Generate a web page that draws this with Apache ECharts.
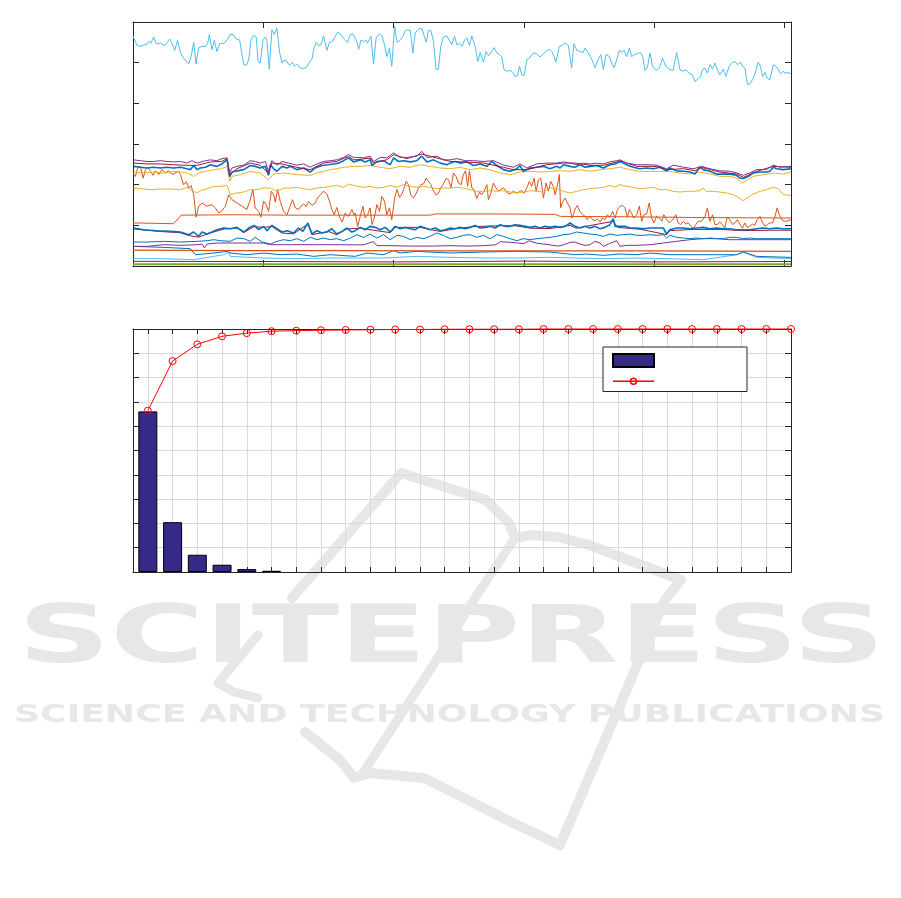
<!DOCTYPE html>
<html><head><meta charset="utf-8">
<script src="https://cdn.jsdelivr.net/npm/echarts@6.0.0/dist/echarts.min.js"></script>
<style>html,body{margin:0;padding:0;background:#fff}#c{width:901px;height:898px}</style>
</head><body><div id="c"></div><script>
// ---------- top chart: time series (x = sample index, y = value) ----------
const lbTop = [[0,5.65],[1.6,5.42],[2.8,5.40],[4.1,5.43],[5.4,5.46],[6.0,5.52],[6.9,5.48],[7.9,5.63],[9.0,5.46],[10.5,5.48],[11.1,5.48],[12.2,5.42],[13.1,5.50],[14.1,5.58],[15.0,5.48],[16.0,5.30],[17.1,5.55],[18.2,5.25],[19.4,5.11],[21.4,4.97],[22.3,5.15],[23.3,5.50],[24.2,4.97],[25.2,5.37],[26.5,5.40],[27.8,5.40],[28.7,5.48],[29.3,5.69],[30.3,5.32],[31.2,5.55],[32.2,5.27],[33.3,5.47],[34.8,5.47],[36.1,5.56],[37.3,5.69],[38.4,5.70],[39.6,5.58],[40.9,5.56],[41.6,5.55],[42.5,4.95],[43.5,4.94],[44.4,5.07],[45.3,5.56],[46.3,5.67],[47.3,5.63],[48.0,5.02],[48.8,4.99],[49.9,5.56],[50.8,5.63],[51.4,5.54],[52.3,4.84],[53.3,5.81],[54.2,5.69],[55.2,5.85],[56.3,5.24],[57.2,4.99],[58.0,5.07],[59.1,5.02],[60.1,4.93],[61.2,5.01],[61.9,4.91],[62.9,4.97],[64.2,4.87],[65.5,4.86],[66.5,4.88],[67.8,5.02],[68.7,5.09],[69.3,5.32],[70.3,5.50],[71.2,5.42],[72.1,5.44],[73.1,5.66],[74.4,5.30],[75.4,5.50],[76.5,5.52],[77.2,5.52],[78.5,5.75],[79.5,5.71],[80.8,5.60],[82.3,5.50],[83.4,5.69],[84.4,5.70],
[85.7,5.55],[86.6,5.33],[87.5,5.56],[88.5,5.52],[89.5,5.55],[90.0,5.48],[91.3,5.65],[92.3,4.97],[93.3,5.61],[94.6,5.71],[95.5,5.66],[96.5,5.44],[97.4,5.15],[98.4,5.36],[99.3,4.91],[100.4,5.89],[101.3,5.50],[102.5,5.55],[103.6,5.65],[104.5,5.79],[105.4,5.81],[106.4,5.79],[107.4,5.24],[108.3,5.73],[109.6,5.83],[110.8,5.85],[111.5,5.81],[112.5,5.50],[113.4,5.79],[114.3,5.79],[115.3,5.52],[116.3,4.83],[117.2,4.84],[118.1,5.40],[119.1,5.63],[120.4,5.66],[121.4,5.55],[122.3,5.44],[123.4,5.65],[124.3,5.44],[125.3,5.47],[126.3,5.40],[127.2,5.56],[128.1,5.61],[129.1,5.42],[130.0,5.66],[131.3,5.40],[132.3,5.03],[133.2,5.25],[134.5,5.01],[135.5,5.28],[136.4,5.17],[137.7,5.28],[138.6,5.37],[139.6,5.24],[140.6,5.20],[141.5,5.14],[142.4,4.83],[143.4,4.79],[144.7,4.81],[145.7,4.76],[146.6,4.66],[147.5,4.68],[148.3,4.91],[149.2,4.70],[150.1,4.68],[151.1,5.07],[152.1,5.11],[153.0,5.20],[153.9,5.24],[154.9,5.22],[156.2,5.14],[157.5,5.22],[158.8,5.30],[159.8,5.33],[160.7,5.28],[161.6,5.15],[162.3,5.01],[163.6,5.40],[164.9,5.44],[165.8,5.48],[167.1,5.42],[167.7,5.40],
[168.3,4.87],[169.2,5.47],[170.3,5.30],[171.5,5.28],[172.6,5.24],[173.5,5.36],[174.7,5.24],[176.0,5.09],[177.3,4.88],[178.6,5.09],[179.5,5.20],[180.5,4.83],[181.5,5.20],[182.8,5.15],[183.7,4.99],[184.6,4.87],[185.6,5.07],[186.6,5.30],[187.5,5.26],[188.5,5.30],[189.4,5.15],[190.5,5.36],[191.3,5.15],[192.6,5.20],[193.9,5.24],[194.9,5.24],[195.6,5.15],[196.5,4.81],[197.4,4.89],[198.4,5.24],[199.4,4.91],[200.7,4.81],[202.0,4.87],[203.2,5.11],[204.5,4.91],[206.0,4.83],[207.3,4.81],[208.6,5.25],[209.9,4.83],[211.2,4.79],[212.2,4.83],[213.5,4.74],[214.7,4.70],[215.6,4.54],[216.9,4.60],[217.8,4.66],[218.6,4.84],[219.5,4.87],[220.4,4.74],[221.4,4.95],[222.4,4.84],[223.3,4.99],[224.2,4.83],[225.2,4.70],[226.5,4.84],[227.5,4.66],[228.8,4.91],[229.7,4.99],[231.0,5.03],[232.0,4.95],[233.1,5.01],[233.9,4.91],[234.8,4.87],[235.8,4.46],[236.7,4.48],[237.7,4.58],[238.6,4.70],[239.9,5.01],[240.8,4.91],[241.6,4.66],[242.5,4.76],[243.4,4.62],[244.4,4.58],[245.7,4.95],[246.7,4.91],[247.6,4.83],[248.5,4.73],[249.5,4.79],[250.1,4.74],[251.0,4.76],[252.5,4.73]];

const clBlue = [[0.3,2.45],[2.8,2.43],[5.4,2.41],[7.9,2.43],[10.5,2.41],[13.1,2.43],[15.6,2.41],[18.2,2.43],[20.7,2.39],[22.0,2.37],[23.3,2.47],[24.6,2.37],[25.8,2.41],[27.8,2.43],[29.7,2.49],[32.2,2.45],[34.1,2.51],[36.1,2.61],[37.1,2.20],[38.0,2.31],[39.9,2.34],[42.5,2.37],[45.0,2.47],[46.9,2.45],[48.8,2.41],[50.8,2.45],[52.0,2.23],[52.7,2.49],[54.0,2.39],[55.2,2.33],[57.2,2.45],[59.1,2.41],[60.3,2.45],[62.9,2.37],[65.5,2.41],[68.0,2.31],[69.9,2.41],[72.5,2.47],[75.0,2.49],[77.0,2.51],[78.9,2.53],[80.8,2.59],[82.7,2.66],[84.6,2.56],
[85.3,2.57],[87.2,2.61],[89.1,2.56],[91.0,2.61],[91.7,2.47],[93.6,2.57],[96.1,2.59],[98.7,2.49],[100.0,2.66],[101.9,2.57],[103.8,2.59],[106.4,2.56],[108.9,2.59],[110.8,2.70],[112.8,2.56],[115.3,2.61],[117.9,2.53],[120.4,2.49],[121.7,2.53],[123.6,2.57],[125.5,2.53],[128.1,2.56],[130.7,2.47],[133.2,2.51],[135.8,2.45],[137.7,2.57],[139.6,2.47],[142.2,2.37],[144.7,2.33],[147.3,2.39],[148.5,2.47],[149.8,2.33],[152.4,2.41],[155.0,2.43],[157.5,2.45],[160.0,2.39],[162.6,2.45],[163.9,2.41],[165.2,2.49],[167.7,2.45],
[169.6,2.43],[171.5,2.49],[173.5,2.43],[175.4,2.45],[177.9,2.47],[180.5,2.41],[183.0,2.49],[185.0,2.51],[186.9,2.57],[188.1,2.53],[190.1,2.47],[192.0,2.43],[194.5,2.39],[197.1,2.41],[199.7,2.39],[202.2,2.43],[204.8,2.34],[206.0,2.41],[208.6,2.34],[211.2,2.33],[213.7,2.31],[215.6,2.26],[217.5,2.43],[218.8,2.37],[221.4,2.33],[223.9,2.26],[226.5,2.26],[229.0,2.26],[231.6,2.23],[232.9,2.16],[234.2,2.15],[236.1,2.20],[238.0,2.29],[240.6,2.31],[243.1,2.31],[244.4,2.33],[245.7,2.43],[247.0,2.39],[249.5,2.37],[252.5,2.39]];

const clPurple = [[0.3,2.61],[2.8,2.59],[5.4,2.57],[7.9,2.57],[10.5,2.59],[13.1,2.57],[15.6,2.56],[18.2,2.57],[20.7,2.53],[22.6,2.59],[24.6,2.53],[27.8,2.59],[29.7,2.61],[32.2,2.59],[34.1,2.64],[36.1,2.66],[37.1,2.29],[38.0,2.41],[39.9,2.45],[42.5,2.48],[45.0,2.59],[46.9,2.57],[48.8,2.53],[50.8,2.57],[52.0,2.33],[53.3,2.59],[55.2,2.48],[57.2,2.57],[59.7,2.53],[62.9,2.48],[65.5,2.51],[68.0,2.43],[70.6,2.51],[73.1,2.57],[75.7,2.59],[78.2,2.61],[80.8,2.67],[82.7,2.74],[84.6,2.67],
[85.9,2.67],[88.5,2.66],[91.0,2.70],[92.3,2.57],[94.9,2.67],[97.4,2.66],[100.0,2.78],[102.5,2.67],[105.1,2.67],[108.9,2.70],[110.8,2.82],[112.8,2.67],[116.6,2.70],[119.1,2.61],[121.7,2.61],[124.3,2.64],[127.5,2.59],[130.7,2.59],[134.5,2.57],[138.3,2.59],[142.2,2.48],[146.0,2.43],[148.5,2.51],[151.1,2.41],[154.9,2.51],[158.8,2.53],[162.6,2.53],[165.2,2.56],[167.7,2.53],
[170.3,2.49],[172.8,2.53],[175.4,2.51],[177.9,2.53],[180.5,2.51],[183.0,2.56],[185.6,2.59],[186.9,2.61],[189.4,2.53],[193.3,2.49],[197.1,2.49],[200.9,2.48],[204.8,2.39],[207.3,2.48],[211.2,2.43],[215.0,2.39],[218.2,2.45],[221.4,2.39],[225.2,2.34],[229.0,2.33],[231.6,2.29],[234.2,2.23],[236.7,2.29],[239.3,2.37],[243.1,2.37],[245.7,2.48],[248.2,2.43],[252.5,2.45]];

const clRed = [[0.3,2.53],[5.4,2.51],[10.5,2.51],[15.6,2.49],[20.7,2.475],[24.6,2.475],[29.7,2.557],[34.1,2.573],[36.1,2.639],[37.1,2.245],[39.9,2.393],[45.0,2.532],[48.8,2.475],[52.0,2.286],[53.3,2.532],[57.2,2.508],[62.9,2.426],[68.0,2.368],[73.1,2.532],[78.2,2.573],[82.7,2.696],[84.6,2.614],
[85.9,2.614],[91.0,2.655],[92.3,2.532],[97.4,2.614],[100.0,2.737],[105.1,2.639],[110.8,2.753],[116.6,2.655],[121.7,2.573],[127.5,2.557],[134.5,2.532],[142.2,2.426],[146.0,2.368],[151.1,2.368],[158.8,2.491],[165.2,2.532],[169.6,2.532],
[175.4,2.475],[180.5,2.475],[185.6,2.557],[186.9,2.59],[193.3,2.45],[200.9,2.45],[204.8,2.368],[211.2,2.393],[215.6,2.344],[218.2,2.426],[225.2,2.311],[231.6,2.262],[234.2,2.18],[239.3,2.327],[245.7,2.45],[252.5,2.426]];

const clYellow = [[0.3,2.311],[4.1,2.286],[7.9,2.311],[11.8,2.286],[15.6,2.327],[18.2,2.311],[20.7,2.286],[23.3,2.204],[25.2,2.286],[27.8,2.327],[31.0,2.368],[34.1,2.393],[36.1,2.45],[37.1,2.081],[38.0,2.204],[41.2,2.245],[45.0,2.327],[48.8,2.286],[52.0,2.122],[54.0,2.262],[57.8,2.286],[62.9,2.245],[68.0,2.229],[70.6,2.286],[75.7,2.368],[80.8,2.426],[84.6,2.45],
[87.2,2.45],[91.0,2.475],[94.9,2.426],[98.7,2.393],[102.5,2.45],[106.4,2.426],[110.2,2.491],[114.0,2.45],[117.9,2.409],[121.7,2.393],[125.5,2.426],[129.4,2.368],[133.2,2.409],[137.0,2.368],[140.9,2.286],[144.7,2.245],[148.5,2.311],[152.4,2.327],[156.2,2.311],[160.0,2.327],[163.9,2.344],[167.7,2.327],
[171.5,2.368],[175.4,2.327],[179.2,2.368],[183.0,2.393],[186.9,2.426],[190.7,2.368],[194.5,2.327],[198.4,2.327],[202.2,2.327],[206.0,2.327],[209.9,2.286],[213.7,2.262],[217.5,2.311],[221.4,2.262],[225.2,2.204],[229.0,2.204],[231.6,2.163],[233.5,2.04],[235.4,2.098],[238.0,2.204],[241.8,2.245],[245.7,2.286],[249.5,2.262],[252.5,2.311]];

const yellow2 = [[0.3,1.917],[2.8,1.901],[6.7,1.877],[10.5,1.893],[14.3,1.893],[18.2,1.877],[20.7,1.934],[23.3,1.836],[24.6,1.795],[25.8,1.852],[28.4,1.901],[31.0,1.958],[33.5,1.958],[36.1,1.983],[37.3,1.754],[39.9,1.795],[42.5,1.819],[45.0,1.877],[47.6,1.877],[50.1,1.917],[52.7,1.917],[55.2,1.836],[57.8,1.917],[60.3,1.917],[62.9,1.934],[65.5,1.901],[68.0,1.877],[70.6,1.917],[73.1,1.934],[75.7,1.958],[78.2,1.983],[80.8,1.934],[82.7,2.016],[84.6,1.983],
[85.9,1.958],[88.5,1.934],[91.0,1.958],[93.6,1.917],[96.1,1.934],[98.7,1.983],[101.3,1.934],[103.8,2.0],[106.4,1.958],[108.9,1.934],[111.5,1.958],[114.0,1.934],[116.6,1.901],[119.1,1.917],[121.7,1.917],[124.3,1.934],[126.8,1.917],[129.4,1.877],[131.9,1.836],[134.5,1.836],[137.0,1.852],[139.6,1.836],[142.2,1.852],[144.7,1.819],[147.3,1.795],[149.8,1.819],[152.4,1.852],[155.0,1.836],[157.5,1.819],[160.0,1.917],[162.6,1.901],[165.2,1.836],[167.7,1.795],
[170.3,1.836],[172.8,1.877],[175.4,1.901],[177.9,1.917],[180.5,1.934],[183.0,1.983],[185.0,1.934],[186.9,2.0],[189.4,1.958],[192.0,1.934],[194.5,1.901],[197.1,1.917],[199.7,1.934],[202.2,1.877],[204.8,1.877],[207.3,1.836],[209.9,1.819],[212.4,1.836],[215.0,1.836],[217.5,1.852],[218.8,1.917],[220.1,1.836],[222.7,1.836],[225.2,1.819],[227.8,1.795],[230.3,1.754],[232.2,1.688],[234.2,1.606],[236.1,1.688],[238.0,1.770],[240.6,1.836],[243.1,1.877],[245.7,1.934],[247.6,1.901],[249.5,1.754],[252.5,1.737]];

const orNoisy = [[0,2.29],[0.9,2.20],[1.8,2.41],[2.8,2.45],[3.9,2.16],[4.8,2.37],[5.6,2.43],[6.7,2.33],[7.7,2.23],[8.6,2.34],[9.9,2.25],[11.1,2.37],[12.4,2.29],[13.7,2.34],[15.0,2.25],[16.3,2.29],[17.5,2.33],[18.2,2.25],[19.4,2.00],[20.5,2.07],[21.4,1.92],[22.3,1.98],[23.3,1.75],[24.2,1.20],[25.2,1.47],[26.5,1.55],[28.4,1.47],[30.3,1.51],[31.6,1.43],[32.9,1.30],[34.1,1.36],[35.4,1.47],[36.7,1.75],[38.0,1.63],[39.9,1.55],[41.8,1.47],[43.7,1.39],[44.8,1.59],[46.0,1.88],[46.9,1.43],[48.2,1.34],[49.1,1.20],[50.1,1.59],[51.1,1.51],[52.0,1.34],[53.1,1.84],[54.0,1.75],[54.6,1.57],[55.5,1.88],[56.5,1.59],[57.8,1.34],[59.1,1.26],[60.3,1.47],[61.2,1.63],[62.3,1.43],[63.5,1.39],[64.4,1.47],[65.5,1.52],[66.5,1.47],[67.4,1.59],[68.7,1.49],[69.9,1.55],[70.8,1.67],[71.9,1.75],[73.1,1.84],[74.4,1.77],[75.4,1.59],[76.3,1.39],[77.2,1.26],[78.2,1.44],[79.3,1.20],[80.3,1.08],[81.4,1.30],[82.7,1.22],[84.0,1.39],[84.9,1.25],
[85.3,1.30],[86.2,0.97],[87.2,1.22],[88.2,1.47],[89.1,1.18],[90.0,1.26],[91.0,1.43],[91.7,1.02],[92.6,1.18],[93.6,1.51],[94.6,1.34],[95.5,1.71],[96.5,1.59],[97.4,1.26],[98.4,1.43],[99.3,1.14],[100.4,1.67],[101.3,1.88],[102.3,1.69],[103.2,1.77],[104.1,1.92],[104.8,2.08],[105.7,2.00],[106.6,1.75],[107.6,1.67],[108.7,1.79],[109.6,1.92],[110.5,2.00],[111.5,2.02],[112.5,2.16],[113.4,2.08],[114.3,2.00],[115.3,1.84],[116.3,1.75],[117.2,1.79],[118.1,1.92],[119.1,2.02],[120.2,2.16],[121.1,2.12],[122.0,1.92],[123.0,2.29],[124.0,2.20],[124.9,2.04],[125.9,2.00],[126.8,2.25],[127.6,2.34],[128.4,1.96],[129.1,2.34],[130.0,1.92],[130.9,1.88],[131.9,1.66],[133.0,1.82],[133.8,1.75],[134.7,1.84],[135.8,2.00],[136.4,1.63],[137.3,1.79],[138.3,2.04],[139.3,1.92],[140.2,1.84],[141.1,1.88],[142.2,1.92],[143.2,1.84],[144.1,1.77],[145.0,1.79],[146.0,1.84],[147.3,1.79],[148.3,1.84],[149.2,1.85],[150.1,1.79],[151.1,1.92],[152.1,2.08],[153.0,1.96],[153.9,2.16],[154.7,1.84],[155.6,2.12],[156.5,2.16],[157.5,1.67],[158.5,2.04],[159.4,1.84],[160.3,2.08],[161.3,1.96],[162.0,1.75],[162.9,2.00],[163.6,2.25],[164.1,1.43],[164.9,1.59],[165.8,1.67],[166.7,1.55],[167.7,1.43],[168.4,1.18],[169.0,1.26],
[169.6,1.39],[170.5,1.49],[171.5,1.34],[172.6,1.26],[173.5,1.22],[174.3,1.14],[175.4,1.22],[176.4,1.14],[177.3,1.11],[178.2,1.16],[179.2,1.08],[180.2,1.18],[181.1,1.14],[182.0,1.26],[183.0,1.20],[184.1,1.34],[185.0,1.18],[185.9,1.39],[186.9,1.47],[187.9,1.49],[188.8,1.43],[189.7,1.20],[190.5,1.39],[191.3,1.30],[192.2,1.18],[193.3,1.26],[194.3,1.47],[195.2,1.10],[196.1,1.26],[197.1,1.28],[198.1,1.55],[199.0,1.18],[199.9,1.06],[200.9,1.22],[202.0,1.18],[202.9,1.10],[203.7,1.26],[204.8,1.14],[205.8,1.06],[206.7,1.11],[207.6,1.18],[208.3,1.26],[209.2,1.06],[210.1,1.02],[211.2,1.10],[212.2,1.03],[213.1,1.06],[214.0,0.98],[215.0,0.93],[216.0,1.02],[216.9,1.10],[218.2,1.10],[219.5,1.22],[220.4,1.43],[221.4,1.10],[222.4,1.26],[223.3,1.02],[224.2,1.02],[225.2,1.08],[226.2,1.02],[227.1,0.93],[228.0,1.20],[229.0,1.14],[230.1,1.02],[231.0,1.06],[231.9,1.14],[232.9,1.02],[233.9,0.93],[234.8,1.06],[235.7,0.95],[236.7,0.98],[237.7,1.03],[238.6,1.00],[239.5,1.14],[240.6,1.22],[241.6,1.06],[242.5,0.98],[243.4,1.02],[244.4,1.06],[245.4,1.06],[246.3,1.20],[247.2,1.43],[248.0,1.26],[248.9,1.14],[249.8,1.11],[250.8,1.10],[252.5,1.14]];

const orFlat = [[0,1.06],[8,1.05],[15.6,1.04],[18.5,1.25],[40,1.26],[60,1.25],[85,1.25],[100,1.25],[114,1.25],[116,1.28],[140,1.28],[162,1.27],[164,1.22],[190,1.21],[220,1.19],[252.5,1.18]];

const bl09 = [[0.3,0.934],[4.1,0.893],[9.2,0.868],[14.3,0.852],[18.2,0.836],[21.4,0.770],[23.3,0.836],[25.2,0.729],[26.5,0.836],[28.4,0.786],[30.3,0.836],[32.2,0.893],[34.8,0.934],[37.3,0.917],[39.9,0.950],[42.5,0.836],[44.4,0.934],[46.5,0.999],[48.2,0.893],[50.1,0.975],[51.4,0.868],[53.3,0.999],[55.2,0.917],[57.2,0.836],[59.1,0.868],[61.6,0.811],[63.5,0.934],[65.2,0.852],[67.1,1.057],[68.7,0.786],[70.6,0.868],[72.5,0.811],[74.4,0.836],[76.3,0.917],[78.2,0.786],[80.2,0.852],[82.1,0.934],[84.0,0.836],[85.3,0.868],
[87.2,0.950],[89.1,0.893],[91.0,0.975],[93.0,0.950],[94.9,0.893],[96.8,0.950],[98.7,0.836],[100.6,0.975],[102.5,0.917],[104.4,0.950],[106.4,0.917],[108.3,0.893],[110.2,0.975],[112.1,0.934],[114.0,0.893],[116.0,0.934],[117.9,0.868],[119.8,0.893],[121.7,0.934],[123.6,0.917],[125.5,0.950],[127.5,0.917],[129.4,0.950],[131.3,0.999],[133.2,0.934],[135.1,0.950],[137.0,0.975],[139.0,0.934],[140.9,1.016],[142.8,0.975],[144.7,0.975],[146.6,1.016],[148.5,0.999],[150.5,0.975],[152.4,0.950],[154.3,0.975],[156.2,0.934],[158.1,0.975],[160.0,0.950],[162.0,0.975],[163.9,0.950],[165.8,0.975],[167.7,1.057],
[169.6,0.975],[171.5,0.934],[173.5,0.975],[175.4,0.934],[177.3,0.975],[179.2,0.917],[181.1,0.950],[183.0,1.016],[184.3,1.164],[185.0,0.975],[186.9,0.975],[188.8,0.975],[190.7,0.934],[193.3,0.934],[195.8,0.917],[198.4,0.934],[200.9,0.934],[203.5,0.934],[204.8,0.786],[206.0,0.893],[208.6,0.934],[211.2,0.934],[213.7,0.917],[216.3,0.934],[218.8,0.950],[221.4,0.917],[223.9,0.934],[226.5,0.917],[229.0,0.917],[231.6,0.893],[234.2,0.893],[236.7,0.893],[239.3,0.917],[241.8,0.934],[244.4,0.917],[247.0,0.934],[249.5,0.917],[252.5,0.917]];

const dr09 = [[0.3,0.91],[10,0.85],[18,0.82],[21.4,0.75],[25.2,0.71],[30,0.82],[35,0.91],[40,0.93],[42.5,0.82],[46.5,0.97],[50,0.95],[53.3,0.97],[57.2,0.81],[61.6,0.79],[67.1,1.03],[68.7,0.77],[75,0.85],[78.2,0.77],[82,0.91],[87,0.93],[98.7,0.82],[100.6,0.95],[110,0.95],[117.9,0.85],[125,0.93],[131.3,0.97],[140.9,0.99],[146.6,0.99],[152.4,0.93],[160,0.92],[167.7,1.0],[170,0.93],[184.3,1.1],[186,0.95],[195,0.9],[204.8,0.77],[206,0.87],[215,0.9],[225,0.9],[234,0.87],[245,0.88],[252.5,0.88]];

const bl06 = [[0,0.590],[5.4,0.590],[11.8,0.606],[18.2,0.590],[24.6,0.606],[28.4,0.622],[31.0,0.647],[33.5,0.622],[37.3,0.606],[39.9,0.688],[42.5,0.672],[45.0,0.606],[46.9,0.704],[49.5,0.590],[52.7,0.540],[55.2,0.606],[57.8,0.647],[60.3,0.622],[62.9,0.672],[65.5,0.606],[68.0,0.704],[70.6,0.647],[73.1,0.688],[75.7,0.647],[78.2,0.672],[80.8,0.622],[83.4,0.688],[85.9,0.770],[88.5,0.704],[91.0,0.786],[93.6,0.688],[96.1,0.770],[98.7,0.647],[101.3,0.754],[103.8,0.729],[106.4,0.647],[108.9,0.704],[111.5,0.672],[114.0,0.729],[116.6,0.811],[119.1,0.754],[121.7,0.672],[124.3,0.704],[126.8,0.754],[129.4,0.770],[131.9,0.704],[134.5,0.754],[137.0,0.672],[139.6,0.770],[142.2,0.729],[144.7,0.672],[147.3,0.622],[149.8,0.672],[152.4,0.647],[155.0,0.672],[157.5,0.688],[160.0,0.704],[162.6,0.729],[165.2,0.770],[167.7,0.786],[170.3,0.836],[172.8,0.811],[175.4,0.786],[177.9,0.770],[180.5,0.729],[183.0,0.786],[185.6,0.754],[188.1,0.770],[190.7,0.786],[193.3,0.754],[195.8,0.754],[198.4,0.770],[200.9,0.754],[203.5,0.770],[204.8,0.688],[206.0,0.754],[208.6,0.704],[211.2,0.688],[213.7,0.672],[216.3,0.688],[218.8,0.672],[221.4,0.688],[223.9,0.672],[226.5,0.672],[229.0,0.704],[231.6,0.704],[234.2,0.672],[236.7,0.688],[239.3,0.672],[244.4,0.672],[249.5,0.672],[252.5,0.672]];

const pu05 = [[0,0.483],[5.4,0.483],[11.8,0.524],[18.2,0.508],[24.6,0.524],[26.5,0.540],[27.4,0.442],[28.4,0.540],[32.2,0.565],[37.3,0.565],[43.7,0.565],[50.1,0.565],[52.7,0.524],[57.8,0.524],[62.9,0.524],[69.3,0.524],[75.7,0.524],[85,0.52],[88.5,0.52],[92.3,0.60],[93.6,0.50],[98.7,0.50],[106.4,0.49],[115.3,0.49],[121.7,0.50],[128.1,0.49],[134.5,0.50],[139,0.52],[141,0.60],[145,0.58],[150,0.55],[152,0.62],[155,0.56],[160,0.52],[163,0.49],[165.2,0.52],[167.7,0.58],[169.6,0.590],[171.5,0.540],[173.5,0.508],[175.4,0.524],[177.3,0.606],[179.2,0.565],[180.5,0.483],[182.4,0.540],[184.3,0.590],[185.6,0.622],[186.9,0.483],[189.4,0.508],[193.3,0.508],[198.4,0.524],[203.5,0.565],[208.6,0.606],[213.7,0.647],[218.8,0.672],[223.9,0.672],[229.0,0.647],[234.2,0.647],[239.3,0.647],[244.4,0.647],[252.5,0.647]];

const or038 = [[0,0.39],[40,0.38],[80,0.38],[120,0.37],[160,0.37],[200,0.37],[252.5,0.36]];

const bl03 = [[0,0.483],[11.8,0.458],[22.0,0.426],[23.9,0.278],[31.0,0.319],[36.1,0.360],[37.3,0.319],[43.7,0.278],[50.1,0.319],[56.5,0.278],[62.9,0.294],[69.3,0.237],[75.7,0.278],[85.3,0.237],[89.8,0.319],[96.1,0.278],[100.0,0.377],[102.5,0.319],[108.9,0.360],[121.7,0.319],[134.5,0.344],[147.3,0.360],[160.0,0.344],[169.6,0.278],[174.1,0.294],[180.5,0.262],[186.9,0.294],[193.3,0.278],[198.4,0.319],[206.0,0.278],[218.8,0.278],[231.6,0.278],[234.2,0.344],[239.3,0.237],[252.5,0.212]];

const lb02 = [[0,0.180],[11.8,0.180],[23.3,0.155],[34.8,0.278],[36.7,0.344],[37.3,0.237],[50.1,0.196],[62.9,0.180],[75.7,0.196],[85.3,0.196],[96.1,0.196],[108.9,0.237],[121.7,0.213],[134.5,0.196],[147.3,0.196],[160.0,0.213],[169.6,0.196],[180.5,0.180],[193.3,0.196],[206.0,0.180],[218.8,0.155],[231.6,0.278],[234.2,0.344],[239.3,0.213],[252.5,0.180]];

const dr01 = [[0,0.114],[50,0.11],[100,0.10],[150,0.12],[200,0.10],[252.5,0.11]];
const gr00 = [[0,0.04],[100,0.04],[252.5,0.04]];

// ---------- bottom chart: pareto ----------
const paretoCats = [1,2,3,4,5,6,7,8,9,10,11,12,13,14,15,16,17,18,19,20,21,22,23,24,25,26,27];
const paretoBars = [66.1,20.5,7.1,3.0,1.2,0.5,0,0,0,0,0,0,0,0,0,0,0,0,0,0,0,0,0,0,0,0,0];
const paretoCum = [66.4,86.8,93.7,97.0,98.3,99.1,99.3,99.5,99.6,99.7,99.8,99.8,99.9,99.9,99.9,99.9,100,100,100,100,100,100,100,100,100,100,100];

const C = {blue:'#0072BD', orange:'#D95319', yellow:'#EDB120', purple:'#7E2F8E', green:'#77AC30', lightBlue:'#4DBEEE', darkRed:'#A2142F'};
const AX = '#262626';

const topLines = [
  [gr00, C.green, 2], [dr01, C.darkRed, 1], [lb02, C.lightBlue, 1], [bl03, C.blue, 1], [or038, C.orange, 1.2],
  [pu05, C.purple, 1], [bl06, C.blue, 1], [dr09, C.darkRed, 1], [bl09, C.blue, 1.6], [orFlat, C.orange, 1],
  [orNoisy, C.orange, 1], [yellow2, C.yellow, 1], [clYellow, C.yellow, 1], [clBlue, C.blue, 1.6],
  [clRed, C.darkRed, 1], [clPurple, C.purple, 1], [lbTop, C.lightBlue, 1]
];

function boxAxis(extra){ return Object.assign({
  axisLine:{show:true, onZero:false, lineStyle:{color:AX, width:1}},
  axisTick:{show:true, inside:true, length:6, lineStyle:{color:AX}},
  axisLabel:{show:false}, splitLine:{show:false}
}, extra); }

const gridLine = {show:true, lineStyle:{color:'#dadada', width:1}};

// watermark sizing
const WM = '#e6e7e7';
function fitScale(text, size, target){
  const ctx = document.createElement('canvas').getContext('2d');
  ctx.font = 'bold ' + size + 'px "DejaVu Sans"';
  return target / ctx.measureText(text).width;
}
const wm1 = 'SCITEPRESS', wm2 = 'SCIENCE AND TECHNOLOGY PUBLICATIONS';
const s1 = fitScale(wm1, 80, 867), s2 = fitScale(wm2, 25, 871);
function wmLine(pts, w){ return {type:'polyline', z:-10, silent:true, shape:{points:pts}, style:{stroke:WM, lineWidth:w, fill:null, lineJoin:'round', lineCap:'round'}}; }

const lineIcon = 'path://M0,0M0,6.5L41,6.5M17.5,6.5A3,3,0,1,0,23.5,6.5A3,3,0,1,0,17.5,6.5M41,13';

const chart = echarts.init(document.getElementById('c'), null, {renderer:'canvas'});
const option = {
  animation:false,
  backgroundColor:'#fff',
  graphic:[
    wmLine([[292,598],[401,473],[442,486],[486,500],[509,523],[515,538],[531,535],[558,537],[589,545],[647,567],[681,580],[665,600],[623,698],[560,845]], 10),
    wmLine([[515,538],[475,598],[430,670],[363,773]], 9),
    wmLine([[560,845],[513,823],[468,800],[424,778],[370,773],[354,778],[340,760],[305,732]], 10),
    wmLine([[258,635],[218,683],[234,692],[258,698]], 9),
    {type:'text', z:-10, silent:true, x:18, y:641, scaleX:s1, style:{text:wm1, x:0, y:0, fill:WM, fontSize:80, fontWeight:'bold', fontFamily:'DejaVu Sans', align:'left', textAlign:'left', verticalAlign:'middle', textVerticalAlign:'middle'}},
    {type:'text', z:-10, silent:true, x:14, y:715, scaleX:s2, style:{text:wm2, x:0, y:0, fill:WM, fontSize:25, fontWeight:'bold', fontFamily:'DejaVu Sans', align:'left', textAlign:'left', verticalAlign:'middle', textVerticalAlign:'middle'}}
  ],
  grid:[
    {left:133, top:22, width:658, height:244},
    {left:133, top:329, width:658, height:243}
  ],
  xAxis:[
    boxAxis({gridIndex:0, type:'value', min:0, max:252.5, interval:50, position:'bottom'}),
    boxAxis({gridIndex:0, type:'value', min:0, max:252.5, interval:50, position:'top'}),
    boxAxis({gridIndex:1, type:'value', min:0.4, max:27, position:'bottom',
      axisTick:{show:true, inside:true, length:5, lineStyle:{color:AX}, customValues:paretoCats},
      axisLabel:{show:false, customValues:paretoCats}, splitLine:gridLine}),
    boxAxis({gridIndex:1, type:'value', min:0.4, max:27, position:'top',
      axisTick:{show:true, inside:true, length:5, lineStyle:{color:AX}, customValues:paretoCats},
      axisLabel:{show:false, customValues:paretoCats}})
  ],
  yAxis:[
    boxAxis({gridIndex:0, type:'value', min:0, max:6, interval:1, position:'left'}),
    boxAxis({gridIndex:0, type:'value', min:0, max:6, interval:1, position:'right'}),
    boxAxis({gridIndex:1, type:'value', min:0, max:100, interval:10, position:'left', splitLine:gridLine}),
    boxAxis({gridIndex:1, type:'value', min:0, max:100, interval:10, position:'right'})
  ],
  legend:{
    left:603, top:347, orient:'vertical', itemWidth:41, itemHeight:13, itemGap:6,
    padding:[6,92,3,9], borderColor:AX, borderWidth:1, backgroundColor:'#fff',
    selectedMode:false, formatter:function(){ return ''; },
    data:[
      {name:'Variance', icon:'rect'},
      {name:'Cumulative', icon:lineIcon, itemStyle:{color:'rgba(255,255,255,0)', borderColor:'#ff0000', borderWidth:1.5}}
    ]
  },
  series: topLines.map(function(d){ return {
      type:'line', xAxisIndex:0, yAxisIndex:0, data:d[0], showSymbol:false, symbol:'none',
      lineStyle:{color:d[1], width:d[2]}, itemStyle:{color:d[1]}, silent:true
    }; }).concat([
    {name:'Variance', type:'bar', xAxisIndex:2, yAxisIndex:2, barWidth:19,
      data: paretoCats.map(function(c,i){ return paretoBars[i] > 0 ? [c, paretoBars[i]] : [c, null]; }),
      itemStyle:{color:'#362a87', borderColor:'#000', borderWidth:1}},
    {name:'Cumulative', type:'line', xAxisIndex:2, yAxisIndex:2, clip:false, z:5,
      data: paretoCats.map(function(c,i){ return [c, paretoCum[i]]; }),
      symbol:'circle', symbolSize:7, showAllSymbol:true,
      lineStyle:{color:'#ff0000', width:1},
      itemStyle:{color:'rgba(255,255,255,0)', borderColor:'#ff0000', borderWidth:1}}
  ])
};
chart.setOption(option);
</script></body></html>
